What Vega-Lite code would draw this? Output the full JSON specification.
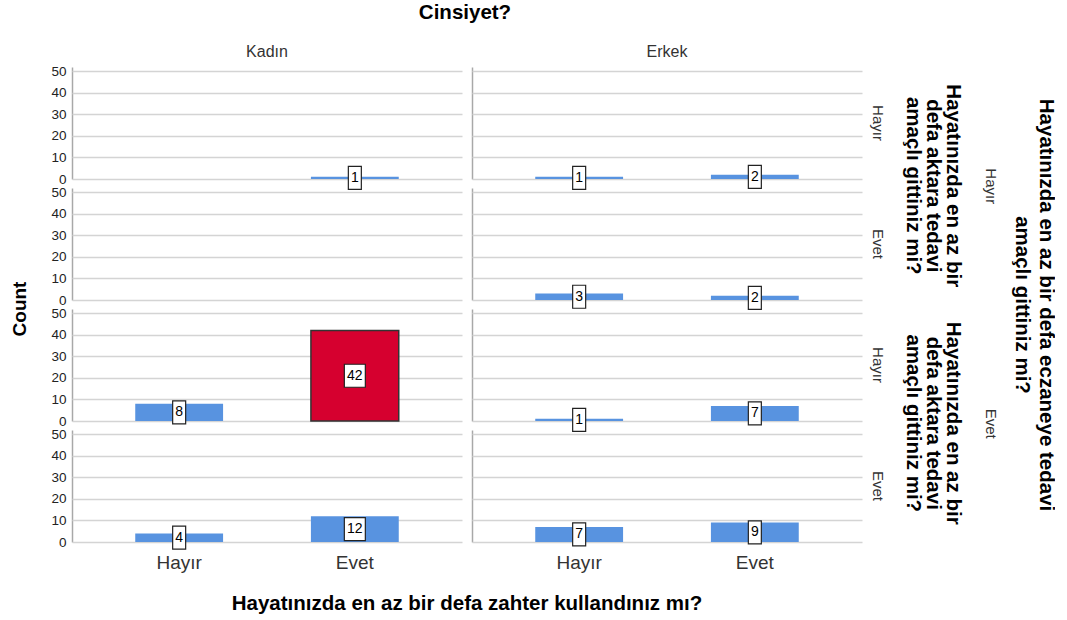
{
  "$schema": "https://vega.github.io/schema/vega-lite/v6.json",
  "padding": {"left": 11, "top": 2, "right": 0, "bottom": 0},
  "config": {
    "font": "Liberation Sans",
    "view": {"stroke": null},
    "title": {"fontSize": 20.5, "fontWeight": "bold", "color": "#000000", "font": "Liberation Sans"},
    "axis": {"ticks": false, "domainColor": "#a8a8a8", "domainWidth": 1.5, "labelFont": "Liberation Sans", "labelColor": "#222222"},
    "header": {"labelFont": "Liberation Sans", "titleFont": "Liberation Sans"}
  },
  "datasets": {
    "counts": [
      {"sex": "Kadın", "eczane": "Hayır", "aktar": "Hayır", "zahter": "Hayır", "count": 0},
      {"sex": "Kadın", "eczane": "Hayır", "aktar": "Hayır", "zahter": "Evet", "count": 1},
      {"sex": "Kadın", "eczane": "Hayır", "aktar": "Evet", "zahter": "Hayır", "count": 0},
      {"sex": "Kadın", "eczane": "Hayır", "aktar": "Evet", "zahter": "Evet", "count": 0},
      {"sex": "Kadın", "eczane": "Evet", "aktar": "Hayır", "zahter": "Hayır", "count": 8},
      {"sex": "Kadın", "eczane": "Evet", "aktar": "Hayır", "zahter": "Evet", "count": 42},
      {"sex": "Kadın", "eczane": "Evet", "aktar": "Evet", "zahter": "Hayır", "count": 4},
      {"sex": "Kadın", "eczane": "Evet", "aktar": "Evet", "zahter": "Evet", "count": 12},
      {"sex": "Erkek", "eczane": "Hayır", "aktar": "Hayır", "zahter": "Hayır", "count": 1},
      {"sex": "Erkek", "eczane": "Hayır", "aktar": "Hayır", "zahter": "Evet", "count": 2},
      {"sex": "Erkek", "eczane": "Hayır", "aktar": "Evet", "zahter": "Hayır", "count": 3},
      {"sex": "Erkek", "eczane": "Hayır", "aktar": "Evet", "zahter": "Evet", "count": 2},
      {"sex": "Erkek", "eczane": "Evet", "aktar": "Hayır", "zahter": "Hayır", "count": 1},
      {"sex": "Erkek", "eczane": "Evet", "aktar": "Hayır", "zahter": "Evet", "count": 7},
      {"sex": "Erkek", "eczane": "Evet", "aktar": "Evet", "zahter": "Hayır", "count": 7},
      {"sex": "Erkek", "eczane": "Evet", "aktar": "Evet", "zahter": "Evet", "count": 9}
    ],
    "side": [
      {"eczane": "Hayır", "panel": "all"},
      {"eczane": "Evet", "panel": "all"}
    ]
  },
  "title": {"text": "Cinsiyet?", "anchor": "middle", "dx": -68, "offset": 21},
  "spacing": 17,
  "hconcat": [
    {
      "title": {"text": "Hayatınızda en az bir defa zahter kullandınız mı?", "orient": "bottom", "anchor": "middle", "dx": 19, "offset": 22},
      "spacing": 10,
      "hconcat": [
        {
          "data": {"name": "counts"},
          "transform": [
            {"filter": "datum.sex === 'Kadın'"},
            {"calculate": "datum.eczane + '|' + datum.aktar", "as": "panel"},
            {"calculate": "datum.count / 2", "as": "mid"}
          ],
          "facet": {
            "row": {"field": "panel", "type": "nominal", "sort": ["Hayır|Hayır", "Hayır|Evet", "Evet|Hayır", "Evet|Evet"],
              "header": {"labels": false, "title": "Count", "titleFontSize": 19, "titleFontWeight": "bold", "titleColor": "#000000", "titlePadding": 10}},
            "column": {"field": "sex", "type": "nominal",
              "header": {"title": null, "labelFontSize": 16, "labelColor": "#333333", "labelPadding": 7}}
          },
          "bounds": "flush",
          "spacing": {"row": 9},
          "spec": {
            "width": 390,
            "height": 112,
            "encoding": {
              "x": {"field": "zahter", "type": "nominal", "scale": {"domain": ["Hayır", "Evet"], "paddingInner": 0.5, "paddingOuter": 0.36},
                "axis": {"title": null, "domain": false, "labelAngle": 0, "labelFontSize": 19, "labelColor": "#333333", "labelPadding": 11}}
            },
            "layer": [
              {
                "mark": {"type": "bar", "strokeWidth": 1.5},
                "encoding": {
                  "y": {"field": "count", "type": "quantitative", "title": null, "scale": {"domain": [0, 52], "nice": false},
                    "axis": {"values": [0, 10, 20, 30, 40, 50], "labelFontSize": 13.5, "labelPadding": 6, "grid": true, "gridWidth": 1.5, "gridColor": "#d4d4d4"}},
                  "color": {"condition": {"test": "datum.count >= 40", "value": "#d6002f"}, "value": "#5893e0"},
                  "stroke": {"condition": {"test": "datum.count >= 40", "value": "#333333"}, "value": "transparent"}
                }
              },
              {
                "mark": {"type": "rule", "color": "#555555", "strokeWidth": 1.5},
                "encoding": {"y": {"datum": 0, "type": "quantitative",
                  "axis": {"values": [0, 10, 20, 30, 40, 50], "labelFontSize": 13.5, "labelPadding": 6, "grid": true, "gridWidth": 1.5, "gridColor": "#d4d4d4"}}}
              },
              {
                "transform": [{"filter": "datum.count > 0 && datum.count < 10"}],
                "mark": {"type": "point", "shape": "M-0.565,-1H0.565V1H-0.565Z", "size": 529, "filled": true, "fill": "#ffffff", "stroke": "#222222", "strokeWidth": 1.2, "opacity": 1},
                "encoding": {"y": {"field": "mid", "type": "quantitative", "title": null,
                  "axis": {"values": [0, 10, 20, 30, 40, 50], "labelFontSize": 13.5, "labelPadding": 6, "grid": true, "gridWidth": 1.5, "gridColor": "#d4d4d4"}}}
              },
              {
                "transform": [{"filter": "datum.count >= 10"}],
                "mark": {"type": "point", "shape": "M-0.913,-1H0.913V1H-0.913Z", "size": 529, "filled": true, "fill": "#ffffff", "stroke": "#222222", "strokeWidth": 1.2, "opacity": 1},
                "encoding": {"y": {"field": "mid", "type": "quantitative", "title": null,
                  "axis": {"values": [0, 10, 20, 30, 40, 50], "labelFontSize": 13.5, "labelPadding": 6, "grid": true, "gridWidth": 1.5, "gridColor": "#d4d4d4"}}}
              },
              {
                "transform": [{"filter": "datum.count > 0"}],
                "mark": {"type": "text", "fontSize": 14, "color": "#000000"},
                "encoding": {"y": {"field": "mid", "type": "quantitative", "title": null,
                  "axis": {"values": [0, 10, 20, 30, 40, 50], "labelFontSize": 13.5, "labelPadding": 6, "grid": true, "gridWidth": 1.5, "gridColor": "#d4d4d4"}},
                  "text": {"field": "count", "type": "quantitative"}}
              }
            ]
          }
        },
        {
          "data": {"name": "counts"},
          "transform": [
            {"filter": "datum.sex === 'Erkek'"},
            {"calculate": "datum.eczane + '|' + datum.aktar", "as": "panel"},
            {"calculate": "datum.count / 2", "as": "mid"}
          ],
          "facet": {
            "row": {"field": "panel", "type": "nominal", "sort": ["Hayır|Hayır", "Hayır|Evet", "Evet|Hayır", "Evet|Evet"],
              "header": {"title": null, "labelOrient": "right", "labelAngle": 90, "labelFontSize": 15, "labelColor": "#333333", "labelPadding": 8,
                "labelExpr": "split(datum.value, '|')[1]"}},
            "column": {"field": "sex", "type": "nominal",
              "header": {"title": null, "labelFontSize": 16, "labelColor": "#333333", "labelPadding": 7}}
          },
          "bounds": "flush",
          "spacing": {"row": 9},
          "spec": {
            "width": 390,
            "height": 112,
            "encoding": {
              "x": {"field": "zahter", "type": "nominal", "scale": {"domain": ["Hayır", "Evet"], "paddingInner": 0.5, "paddingOuter": 0.36},
                "axis": {"title": null, "domain": false, "labelAngle": 0, "labelFontSize": 19, "labelColor": "#333333", "labelPadding": 11}}
            },
            "layer": [
              {
                "mark": {"type": "bar", "strokeWidth": 1.5},
                "encoding": {
                  "y": {"field": "count", "type": "quantitative", "title": null, "scale": {"domain": [0, 52], "nice": false},
                    "axis": {"values": [0, 10, 20, 30, 40, 50], "labels": false, "grid": true, "gridWidth": 1.5, "gridColor": "#d4d4d4"}},
                  "color": {"condition": {"test": "datum.count >= 40", "value": "#d6002f"}, "value": "#5893e0"},
                  "stroke": {"condition": {"test": "datum.count >= 40", "value": "#333333"}, "value": "transparent"}
                }
              },
              {
                "mark": {"type": "rule", "color": "#555555", "strokeWidth": 1.5},
                "encoding": {"y": {"datum": 0, "type": "quantitative",
                  "axis": {"values": [0, 10, 20, 30, 40, 50], "labels": false, "grid": true, "gridWidth": 1.5, "gridColor": "#d4d4d4"}}}
              },
              {
                "transform": [{"filter": "datum.count > 0 && datum.count < 10"}],
                "mark": {"type": "point", "shape": "M-0.565,-1H0.565V1H-0.565Z", "size": 529, "filled": true, "fill": "#ffffff", "stroke": "#222222", "strokeWidth": 1.2, "opacity": 1},
                "encoding": {"y": {"field": "mid", "type": "quantitative", "title": null,
                  "axis": {"values": [0, 10, 20, 30, 40, 50], "labels": false, "grid": true, "gridWidth": 1.5, "gridColor": "#d4d4d4"}}}
              },
              {
                "transform": [{"filter": "datum.count >= 10"}],
                "mark": {"type": "point", "shape": "M-0.913,-1H0.913V1H-0.913Z", "size": 529, "filled": true, "fill": "#ffffff", "stroke": "#222222", "strokeWidth": 1.2, "opacity": 1},
                "encoding": {"y": {"field": "mid", "type": "quantitative", "title": null,
                  "axis": {"values": [0, 10, 20, 30, 40, 50], "labels": false, "grid": true, "gridWidth": 1.5, "gridColor": "#d4d4d4"}}}
              },
              {
                "transform": [{"filter": "datum.count > 0"}],
                "mark": {"type": "text", "fontSize": 14, "color": "#000000"},
                "encoding": {"y": {"field": "mid", "type": "quantitative", "title": null,
                  "axis": {"values": [0, 10, 20, 30, 40, 50], "labels": false, "grid": true, "gridWidth": 1.5, "gridColor": "#d4d4d4"}},
                  "text": {"field": "count", "type": "quantitative"}}
              }
            ]
          }
        }
      ]
    },
    {
      "data": {"name": "side"},
      "facet": {
        "column": {"field": "panel", "type": "nominal",
          "header": {"title": null, "labelExpr": "' '", "labelFontSize": 16, "labelPadding": 7}}
      },
      "spec": {
        "width": 52,
        "height": 475,
        "mark": {"type": "text", "angle": 90, "fontSize": 20.5, "fontWeight": "bold", "lineHeight": 20, "align": "center", "baseline": "middle", "color": "#000000"},
        "encoding": {
          "y": {"field": "eczane", "type": "nominal", "scale": {"domain": ["Hayır", "Evet"], "paddingInner": 0.037, "paddingOuter": 0},
            "axis": {"orient": "right", "domain": false, "labelAngle": 90, "labelFontSize": 15, "labelColor": "#333333", "labelPadding": 3,
              "title": ["Hayatınızda en az bir defa eczaneye tedavi", "amaçlı gittiniz mi?"], "titleAngle": 90, "titleFontSize": 20.5, "titleFontWeight": "bold", "titleColor": "#000000", "titlePadding": 14, "titleLineHeight": 24}},
          "text": {"value": ["Hayatınızda en az bir", "defa aktara tedavi", "amaçlı gittiniz mi?"]}
        }
      }
    }
  ]
}
